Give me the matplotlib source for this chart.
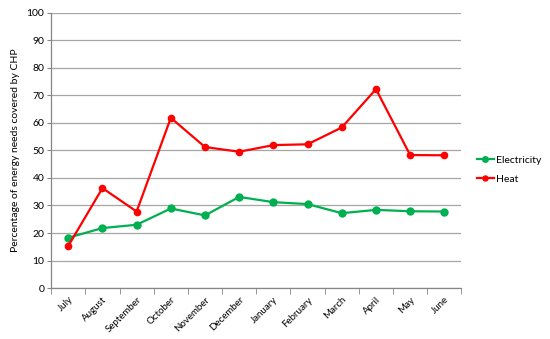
import matplotlib
matplotlib.use("Agg")
import matplotlib.pyplot as plt
import numpy as np

months = ["July", "August", "September", "October", "November", "December",
          "January", "February", "March", "April", "May", "June"]
electricity = [18.3, 21.8, 23.0, 28.9, 26.4, 33.1, 31.2, 30.5, 27.2, 28.4, 27.9, 27.8]
heat = [15.3, 36.3, 27.8, 61.8, 51.2, 49.5, 51.9, 52.2, 58.3, 72.2, 48.3, 48.2]
yticks = list(range(0, 101, 10))

plt.rcParams['font.family'] = ['Lato', 'DejaVu Sans']

fig = plt.figure(figsize=(5.5, 3.39), dpi=100)
ax = fig.add_axes([0.093, 0.150, 0.746, 0.813])

x = np.arange(len(months))
ax.plot(x, electricity, color='#00b050', lw=1.6, marker='o', ms=5, label='Electricity', zorder=3)
ax.plot(x, heat, color='#ff0000', lw=1.6, marker='o', ms=4.5, label='Heat', zorder=3)

ax.set_xlim(-0.5, len(months) - 0.5)
ax.set_ylim(0, 100)
ax.set_yticks(yticks)
ax.set_yticklabels([str(v) for v in yticks], fontsize=7.5)
ax.set_xticks(x)
ax.set_xticklabels(months, rotation=45, ha='right', rotation_mode='anchor', fontsize=7)
ax.tick_params(axis='x', which='major', length=0, pad=5)
ax.set_xticks(np.arange(-0.5, len(months)), minor=True)
ax.tick_params(axis='x', which='minor', length=4, color='#868686', direction='out')
ax.tick_params(axis='y', length=3, color='#868686', direction='out', pad=2)

ax.grid(axis='y', color='#a6a6a6', lw=0.9)
ax.set_axisbelow(True)
for s in ['top', 'right']:
    ax.spines[s].set_visible(False)
for s in ['left', 'bottom']:
    ax.spines[s].set_color('#868686')
    ax.spines[s].set_linewidth(0.9)

ax.set_ylabel('Percentage of energy needs covered by CHP', fontsize=7.5, labelpad=5)

ax.legend(loc='center left', bbox_to_anchor=(1.03, 0.43), frameon=False, fontsize=7.5,
          handlelength=1.6, labelspacing=0.9, handletextpad=0.25, markerscale=0.8,
          borderaxespad=0.1, borderpad=0.2)

fig.savefig('out.png', dpi=100)
